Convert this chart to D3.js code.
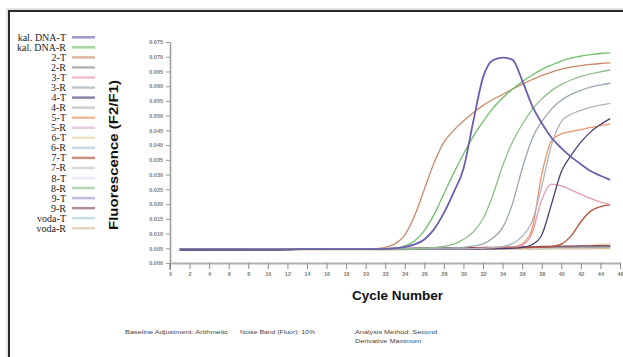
<!DOCTYPE html>
<html><head><meta charset="utf-8">
<script src="https://cdn.jsdelivr.net/npm/d3@7"></script>
<style>body{margin:0;background:#fff}svg{display:block}</style>
</head><body><svg id="c" width="623" height="357"></svg>
<script>
// ---------- DATA ----------
const cycles = [1,2,3,4,5,6,7,8,9,10,11,12,13,14,15,16,17,18,19,20,21,22,23,24,25,26,27,28,29,30,31,32,33,34,35,36,37,38,39,40,41,42,43,44,45];
const seriesNames = ["kal. DNA-T","kal. DNA-R","2-T","2-R","3-T","3-R","4-T","4-R","5-T","5-R","6-T","6-R","7-T","7-R","8-T","8-R","9-T","9-R","voda-T","voda-R"];

const kalDnaT = [.0046,.0046,.0046,.0046,.0046,.0046,.0046,.0046,.0046,.0046,.0046,.0046,.0047,.0047,.0047,.0047,.0047,.0047,.0047,.0047,.0047,.0048,.0050,.0054,.0063,.0080,.0115,.0170,.0240,.0320,.0480,.0630,.0688,.0697,.0690,.0620,.0535,.0475,.0425,.0390,.0360,.0335,.0312,.0296,.0282];
const kalDnaR = [.0047,.0047,.0047,.0047,.0047,.0047,.0047,.0047,.0047,.0047,.0047,.0047,.0047,.0048,.0048,.0048,.0048,.0048,.0048,.0048,.0048,.0048,.0050,.0058,.0075,.0110,.0165,.0235,.0305,.0370,.0430,.0480,.0525,.0560,.0590,.0615,.0637,.0657,.0672,.0685,.0695,.0702,.0707,.0711,.0713];
const s2T = [.0047,.0047,.0047,.0047,.0047,.0047,.0047,.0047,.0047,.0047,.0047,.0047,.0047,.0047,.0047,.0047,.0048,.0048,.0048,.0048,.0049,.0053,.0065,.0095,.0160,.0250,.0340,.0410,.0450,.0482,.0510,.0535,.0555,.0572,.0590,.0607,.0622,.0636,.0648,.0658,.0665,.0670,.0674,.0677,.0679];
const s2R = [.0046,.0046,.0045,.0046,.0046,.0046,.0045,.0046,.0046,.0046,.0046,.0046,.0046,.0047,.0047,.0047,.0047,.0047,.0048,.0048,.0048,.0048,.0049,.0049,.0049,.0050,.0050,.0050,.0050,.0051,.0051,.0051,.0052,.0052,.0052,.0053,.0053,.0053,.0054,.0054,.0054,.0055,.0055,.0055,.0056];
const s3T = [.0046,.0046,.0046,.0046,.0046,.0046,.0046,.0046,.0046,.0046,.0046,.0046,.0046,.0046,.0046,.0047,.0047,.0047,.0047,.0047,.0047,.0047,.0047,.0047,.0047,.0047,.0047,.0047,.0047,.0047,.0047,.0048,.0048,.0049,.0051,.0060,.0100,.0215,.0268,.0262,.0248,.0233,.0219,.0207,.0199];
const s3R = [.0046,.0046,.0046,.0046,.0046,.0046,.0046,.0046,.0046,.0046,.0046,.0046,.0046,.0046,.0046,.0046,.0047,.0047,.0047,.0047,.0047,.0047,.0048,.0048,.0048,.0049,.0049,.0050,.0051,.0053,.0057,.0065,.0085,.0120,.0200,.0320,.0420,.0480,.0522,.0552,.0572,.0586,.0597,.0604,.0610];
const s4T = [.0045,.0045,.0045,.0045,.0045,.0045,.0045,.0045,.0045,.0045,.0045,.0046,.0046,.0046,.0046,.0046,.0046,.0046,.0046,.0046,.0046,.0046,.0046,.0046,.0046,.0047,.0047,.0047,.0047,.0047,.0047,.0048,.0048,.0049,.0050,.0053,.0062,.0095,.0200,.0310,.0365,.0410,.0445,.0470,.0490];
const s4R = [.0046,.0046,.0046,.0046,.0046,.0046,.0046,.0046,.0046,.0046,.0046,.0046,.0046,.0046,.0047,.0047,.0047,.0047,.0047,.0047,.0047,.0047,.0047,.0047,.0048,.0048,.0048,.0048,.0048,.0048,.0049,.0050,.0052,.0056,.0066,.0090,.0140,.0260,.0400,.0480,.0505,.0518,.0528,.0536,.0542];
const s5T = [.0046,.0046,.0046,.0046,.0046,.0046,.0046,.0046,.0046,.0046,.0046,.0046,.0046,.0046,.0046,.0046,.0047,.0047,.0047,.0047,.0047,.0047,.0047,.0047,.0047,.0047,.0047,.0047,.0048,.0048,.0048,.0048,.0049,.0050,.0053,.0065,.0115,.0300,.0415,.0438,.0446,.0453,.0460,.0466,.0472];
const s5R = [.0045,.0045,.0046,.0045,.0045,.0045,.0046,.0045,.0045,.0046,.0046,.0046,.0046,.0046,.0047,.0047,.0047,.0047,.0047,.0048,.0048,.0048,.0048,.0049,.0049,.0049,.0050,.0050,.0050,.0051,.0051,.0052,.0052,.0053,.0053,.0054,.0054,.0055,.0055,.0056,.0056,.0057,.0057,.0058,.0058];
const s6T = [.0044,.0044,.0044,.0045,.0044,.0044,.0045,.0045,.0045,.0045,.0045,.0045,.0046,.0046,.0046,.0046,.0046,.0046,.0047,.0047,.0047,.0047,.0047,.0047,.0048,.0048,.0048,.0048,.0048,.0049,.0049,.0049,.0050,.0050,.0051,.0051,.0052,.0053,.0054,.0055,.0057,.0059,.0061,.0063,.0065];
const s6R = [.0046,.0046,.0046,.0046,.0047,.0046,.0046,.0046,.0047,.0047,.0047,.0047,.0047,.0047,.0048,.0048,.0048,.0048,.0048,.0048,.0049,.0049,.0049,.0049,.0050,.0050,.0050,.0050,.0051,.0051,.0051,.0051,.0052,.0052,.0052,.0053,.0053,.0053,.0053,.0054,.0054,.0054,.0055,.0055,.0055];
const s7T = [.0046,.0046,.0046,.0046,.0046,.0046,.0046,.0046,.0046,.0046,.0047,.0047,.0047,.0047,.0047,.0047,.0047,.0047,.0047,.0048,.0048,.0048,.0048,.0048,.0048,.0049,.0049,.0049,.0049,.0050,.0050,.0050,.0051,.0051,.0052,.0052,.0053,.0054,.0056,.0064,.0092,.0140,.0176,.0191,.0197];
const s7R = [.0045,.0045,.0045,.0045,.0045,.0045,.0045,.0046,.0046,.0046,.0046,.0046,.0046,.0046,.0046,.0047,.0047,.0047,.0047,.0047,.0047,.0048,.0048,.0048,.0048,.0049,.0049,.0049,.0049,.0050,.0050,.0050,.0050,.0051,.0051,.0051,.0052,.0052,.0052,.0053,.0053,.0053,.0054,.0054,.0054];
const s8T = [.0047,.0047,.0047,.0047,.0047,.0047,.0047,.0047,.0047,.0047,.0048,.0048,.0048,.0048,.0048,.0048,.0048,.0049,.0049,.0049,.0049,.0049,.0050,.0050,.0050,.0050,.0051,.0051,.0051,.0051,.0052,.0052,.0052,.0053,.0053,.0053,.0054,.0054,.0054,.0055,.0055,.0056,.0056,.0056,.0057];
const s8R = [.0047,.0047,.0047,.0047,.0047,.0047,.0047,.0047,.0047,.0047,.0047,.0047,.0047,.0047,.0048,.0048,.0048,.0048,.0048,.0048,.0048,.0048,.0048,.0049,.0049,.0050,.0052,.0056,.0064,.0080,.0105,.0150,.0230,.0330,.0410,.0470,.0520,.0557,.0585,.0606,.0621,.0633,.0642,.0649,.0655];
const s9T = [.0045,.0045,.0045,.0045,.0045,.0046,.0046,.0046,.0046,.0046,.0046,.0046,.0046,.0047,.0047,.0047,.0047,.0047,.0048,.0048,.0048,.0048,.0049,.0049,.0049,.0049,.0050,.0050,.0050,.0051,.0051,.0051,.0052,.0052,.0052,.0053,.0053,.0054,.0054,.0054,.0055,.0055,.0056,.0056,.0056];
const s9R = [.0044,.0044,.0044,.0044,.0044,.0044,.0045,.0045,.0045,.0045,.0045,.0045,.0046,.0046,.0046,.0046,.0047,.0047,.0047,.0048,.0048,.0048,.0049,.0049,.0050,.0050,.0050,.0051,.0051,.0052,.0052,.0053,.0053,.0054,.0054,.0055,.0055,.0056,.0056,.0057,.0057,.0058,.0058,.0059,.0059];
const vodaT = [.0046,.0046,.0046,.0046,.0046,.0046,.0046,.0046,.0046,.0046,.0047,.0047,.0047,.0047,.0047,.0047,.0047,.0047,.0047,.0048,.0048,.0048,.0048,.0048,.0048,.0049,.0049,.0049,.0049,.0049,.0050,.0050,.0050,.0050,.0050,.0051,.0051,.0051,.0051,.0052,.0052,.0052,.0052,.0053,.0053];
const vodaR = [.0044,.0044,.0044,.0044,.0044,.0044,.0044,.0044,.0044,.0044,.0044,.0044,.0044,.0045,.0045,.0045,.0045,.0045,.0045,.0045,.0045,.0045,.0045,.0045,.0046,.0046,.0046,.0046,.0046,.0046,.0046,.0046,.0047,.0047,.0047,.0047,.0047,.0047,.0048,.0048,.0048,.0048,.0048,.0049,.0049];

const yTickValues = [0,0.005,0.010,0.015,0.020,0.025,0.030,0.035,0.040,0.045,0.050,0.055,0.060,0.065,0.070,0.075];
const xTickValues = [0,2,4,6,8,10,12,14,16,18,20,22,24,26,28,30,32,34,36,38,40,42,44,46];
const yTitle = "Fluorescence (F2/F1)";
const xTitle = "Cycle Number";
const footer1 = "Baseline Adjustment: Arithmetic";
const footer2 = "Noise Band (Fluor): 10%";
const footer3a = "Analysis Method: Second";
const footer3b = "Derivative Maximum";

// ---------- STYLE ----------
const seriesValues = [kalDnaT,kalDnaR,s2T,s2R,s3T,s3R,s4T,s4R,s5T,s5R,s6T,s6R,s7T,s7R,s8T,s8R,s9T,s9R,vodaT,vodaR];
const colors = ["#6a5fb2","#6fbf6a","#c98a6a","#8c8c8c","#e49ab0","#9aa6b4","#4d3f73","#b4b4c0","#e8956a","#d4b4d4",
                "#e2d2a8","#a9c3d9","#b5513f","#c0c0cc","#e4d8ee","#8dc08a","#9f97d2","#8a4f62","#a6cce0","#dcbf99"];
const drawOrder = [19,18,16,14,13,11,10,9,3,17,12,4,8,6,7,5,15,2,1,0];

const svg = d3.select("#c");
svg.append("rect").attr("x",7).attr("y",9).attr("width",700).attr("height",400).attr("fill","none").attr("stroke","#c8c8c8").attr("stroke-width",1);
svg.append("rect").attr("x",9).attr("y",11).attr("width",700).attr("height",400).attr("fill","none").attr("stroke","#2a2a2a").attr("stroke-width",2);

const x = d3.scaleLinear().domain([0,46]).range([170,620]);
const y = d3.scaleLinear().domain([0,0.075]).range([263,42]);

// y axis
const gy = svg.append("g").attr("transform","translate(170,0)")
  .call(d3.axisLeft(y).tickValues(yTickValues).tickFormat(d3.format(".3f")).tickSize(4).tickSizeOuter(0));
gy.select(".domain").attr("stroke","#9a9a9a").attr("stroke-width",1.5);
gy.selectAll(".tick line").attr("stroke","#9a9a9a");
gy.selectAll(".tick text").attr("fill","#7a7a7a").attr("font-size","5.5px").attr("font-family","Liberation Sans, Arial, sans-serif").attr("font-weight","bold").attr("x",-7);
svg.append("line").attr("x1",170).attr("x2",170).attr("y1",y(0)).attr("y2",270).attr("stroke","#9a9a9a").attr("stroke-width",1.5);

// x axis
const gx = svg.append("g").attr("transform","translate(0,263)")
  .call(d3.axisBottom(x).tickValues(xTickValues).tickFormat(d3.format("d")).tickSize(6).tickSizeOuter(0));
gx.select(".domain").attr("stroke","#b0b0b0").attr("stroke-width",2);
gx.selectAll(".tick line").attr("stroke","#8a8a8a");
gx.selectAll(".tick text").attr("fill","#7a7a7a").attr("font-size","5.5px").attr("font-family","Liberation Sans, Arial, sans-serif").attr("font-weight","bold").attr("y",9);

// titles
svg.append("text").attr("transform","translate(118,155) rotate(-90)").attr("text-anchor","middle")
  .attr("font-family","Liberation Sans, Arial, sans-serif").attr("font-weight","bold").attr("font-size","13px")
  .attr("fill","#111").attr("textLength",150).attr("lengthAdjust","spacingAndGlyphs").text(yTitle);
svg.append("text").attr("x",397.5).attr("y",300).attr("text-anchor","middle")
  .attr("font-family","Liberation Sans, Arial, sans-serif").attr("font-weight","bold").attr("font-size","12.5px")
  .attr("fill","#111").attr("textLength",91).attr("lengthAdjust","spacingAndGlyphs").text(xTitle);

const foot = (t,xx,yy,len)=>svg.append("text").attr("x",xx).attr("y",yy).attr("font-family","Liberation Sans, Arial, sans-serif")
  .attr("font-size","6px").attr("fill","#444").attr("textLength",len).attr("lengthAdjust","spacingAndGlyphs").text(t);
foot(footer1,125,334,103);
foot(footer2,240,334,75);
foot(footer3a,355,334,82);
foot(footer3b,355,343,66);

// lines
const line = d3.line().x((d,i)=>x(cycles[i])).y(d=>y(d)).curve(d3.curveMonotoneX);
const plot = svg.append("g");
drawOrder.forEach(i=>{
  plot.append("path").attr("d",line(seriesValues[i])).attr("fill","none")
    .attr("stroke",colors[i]).attr("stroke-width", i===0?1.8:1.3).attr("stroke-linejoin","round");
});

// legend
const lg = svg.append("g");
seriesNames.forEach((n,i)=>{
  const yy = 37.3 + i*10.05;
  lg.append("text").attr("x",66).attr("y",yy).attr("dy","0.35em").attr("text-anchor","end")
    .attr("font-family","Liberation Serif, Times New Roman, serif").attr("font-size","10px").attr("fill","#222").text(n);
  lg.append("line").attr("x1",72).attr("x2",95).attr("y1",yy).attr("y2",yy)
    .attr("stroke",colors[i]).attr("stroke-width",2.5).attr("stroke-opacity",0.65);
});
</script></body></html>
